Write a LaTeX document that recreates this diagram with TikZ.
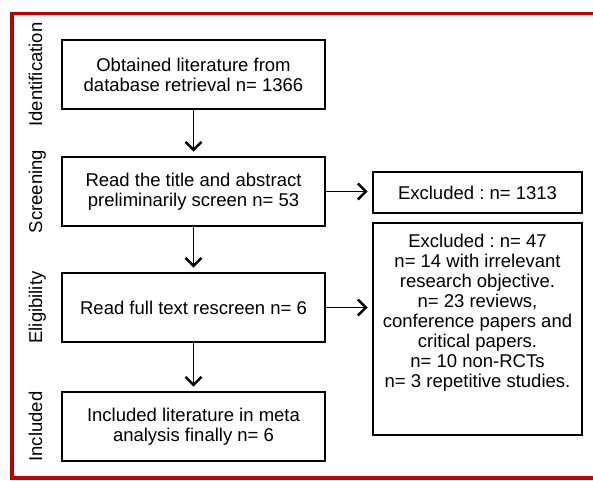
\documentclass[tikz,border=0pt]{standalone}
\usepackage{fontspec}
\setmainfont{Liberation Sans}
\usetikzlibrary{arrows.meta}
\definecolor{framered}{RGB}{192,0,0}
\frenchspacing
\tikzset{stage/.style={rectangle, draw, line width=2.8pt, minimum width=263pt, minimum height=69pt, align=center, inner sep=0pt}}
\tikzset{excl/.style={rectangle, draw, line width=2.8pt, minimum width=209pt, align=center, inner sep=0pt}}
\tikzset{phase/.style={rotate=90, anchor=base, inner sep=0pt}}
\tikzset{flow/.style={line width=1.8pt, -{Straight Barb[length=8pt, width=16pt, line width=2.4pt]}, shorten >=4pt}}

\begin{document}
\begin{tikzpicture}[x=1pt, y=-1pt, every node/.style={font=\fontsize{18.5}{20}\selectfont}]

    \useasboundingbox (0,0) rectangle (593,480);

    \draw[framered, line width=3.5pt] (593,13.5) -- (12,13.5) -- (12,478) -- (593,478);

    \node[stage] (ident)  at (193.5,74.5)  {Obtained literature from\\database retrieval n= 1366};
    \node[stage] (screen) at (193.5,191.5) {Read the title and abstract\\preliminarily screen n= 53};
    \node[stage] (elig)   at (193.5,307.5) {Read full text rescreen n= 6};
    \node[stage] (incl)   at (193.5,426.5) {Included literature in meta\\analysis finally n= 6};

    \node[excl, minimum height=41pt]  (exscreen) at (477.5,192.5) {Excluded : n= 1313};
    \node[excl, minimum height=212pt] (exelig)   at (477.5,329)   {};
    \node[anchor=north, align=center, inner sep=0pt] (exeligtxt) at ([yshift=-12pt]exelig.north)
      {Excluded : n= 47\\n= 14 with irrelevant\\research objective.\\n= 23 reviews,\\conference papers and\\critical papers.\\n= 10 non-RCTs\\n= 3 repetitive studies.};

    \node[phase] (lident)  at (42,74.5)  {Identification};
    \node[phase] (lscreen) at (42,191.5) {Screening};
    \node[phase] (lelig)   at (42,307.5) {Eligibility};
    \node[phase] (lincl)   at (42,426.5) {Included};

    \draw[flow] (ident) -- (screen);
    \draw[flow] (screen) -- (elig);
    \draw[flow] (elig) -- (incl);
    \draw[flow] (screen.east) -- (screen.east -| exscreen.west);
    \draw[flow] (elig.east) -- (elig.east -| exelig.west);

  \end{tikzpicture}
\end{document}
